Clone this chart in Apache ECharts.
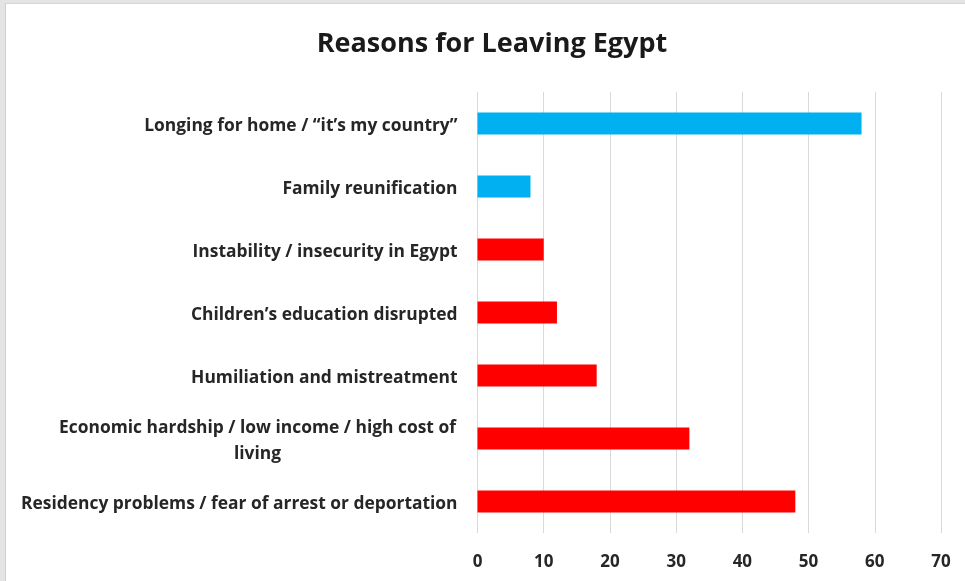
<!DOCTYPE html>
<html>
<head>
<meta charset="utf-8">
<script src="https://cdn.jsdelivr.net/npm/echarts@6/dist/echarts.min.js"></script>
<style>
html,body{margin:0;padding:0;background:#e4e4e4;}
#frame{position:absolute;left:5px;top:3px;width:960px;height:578px;background:#fff;border-left:1px solid #cfcfcf;border-top:1px solid #d6d6d6;}
#chart{position:absolute;left:0;top:0;width:965px;height:581px;}
</style>
</head>
<body>
<div id="frame"></div>
<div id="chart"></div>
<script>
const titleText = 'Reasons for Leaving Egypt';
const categories = [
  'Longing for home / \u201Cit\u2019s my country\u201D',
  'Family reunification',
  'Instability / insecurity in Egypt',
  'Children\u2019s education disrupted',
  'Humiliation and mistreatment',
  'Economic hardship / low income / high cost of\nliving',
  'Residency problems / fear of arrest or deportation'
];
const values = [58, 8, 10, 12, 18, 32, 48];
const groups = ['pull', 'pull', 'push', 'push', 'push', 'push', 'push'];
const xMin = 0, xMax = 70, xStep = 10;

const groupColor = { pull: '#00B0F0', push: '#FF0000' };
const labelFont = 'Open Sans';
const chart = echarts.init(document.getElementById('chart'), null, { renderer: 'canvas' });
chart.setOption({
  backgroundColor: 'transparent',
  animation: false,
  title: {
    text: titleText,
    left: 487, top: 26, textAlign: 'center',
    textStyle: { fontFamily: 'Open Sans', fontWeight: 'bold', fontSize: 27, color: '#1a1a1a' }
  },
  grid: { left: 477.5, right: 24, top: 92, bottom: 48, containLabel: false },
  xAxis: {
    type: 'value', min: xMin, max: xMax, interval: xStep,
    axisLine: { show: false }, axisTick: { show: false },
    splitLine: { show: true, lineStyle: { color: '#d9d9d9', width: 1 } },
    axisLabel: { margin: 21, fontFamily: labelFont, fontWeight: 'bold', fontSize: 17, color: '#262626' }
  },
  yAxis: {
    type: 'category', inverse: true, data: categories,
    axisLine: { show: false }, axisTick: { show: false },
    axisLabel: {
      margin: 20, padding: [5, 0, 0, 0], fontFamily: labelFont, fontWeight: 'bold', fontSize: 17.4, color: '#262626', lineHeight: 26,
      formatter: function (v) {
        if (v.indexOf('\n') < 0) return v;
        return v.split('\n').map(function (l) { return '{c|' + l + '}'; }).join('\n');
      },
      rich: { c: { width: 400, align: 'center', fontFamily: labelFont, fontWeight: 'bold', fontSize: 17.4, color: '#262626', lineHeight: 26 } }
    }
  },
  series: [{
    type: 'bar', barWidth: 22,
    data: values.map(function (v, i) { return { value: v, itemStyle: { color: groupColor[groups[i]] } }; })
  }]
});
</script>
</body>
</html>
